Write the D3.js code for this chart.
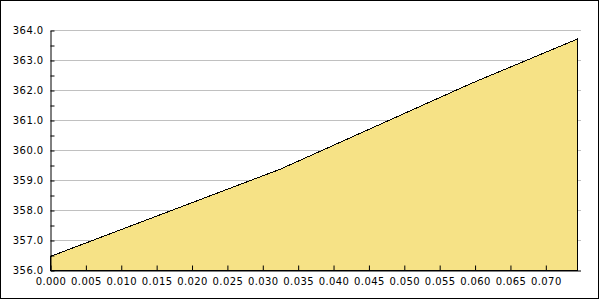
<!DOCTYPE html>
<html>
<head>
<meta charset="utf-8">
<script src="https://cdn.jsdelivr.net/npm/d3@7"></script>
<style>
  body { margin: 0; background: #fff; }
  svg { display: block; }
  text { font-family: "DejaVu Sans", Verdana, sans-serif; }
</style>
</head>
<body>
<div class="chart"></div>
<script>
// data
const xValues = [0, 0.0325, 0.0594, 0.0745];
const yValues = [356.47, 359.38, 362.23, 363.72];
const xTicks = [0, 0.005, 0.010, 0.015, 0.020, 0.025, 0.030, 0.035, 0.040, 0.045, 0.050, 0.055, 0.060, 0.065, 0.070];
const yTicks = [356, 357, 358, 359, 360, 361, 362, 363, 364];
const yMinorTicks = [356.5, 357.5, 358.5, 359.5, 360.5, 361.5, 362.5, 363.5];

const points = xValues.map((x, i) => ({x: x, y: yValues[i]}));

const width = 600;
const height = 300;

const svg = d3.select('.chart')
  .append('svg')
  .attr('width', width)
  .attr('height', height);

// outer frame
svg.append('rect')
  .attr('x', 0.5).attr('y', 0.5)
  .attr('width', 598).attr('height', 298)
  .attr('fill', '#fff')
  .attr('stroke', '#000');

const x = d3.scaleLinear().domain([0, 0.0749]).range([50.5, 580.5]);
const y = d3.scaleLinear().domain([356, 364]).range([270.5, 30.5]);

// gridlines
svg.append('g')
  .selectAll('line')
  .data(yTicks.filter(d => d !== 356))
  .enter()
  .append('line')
  .attr('x1', x(0)).attr('x2', 581)
  .attr('y1', d => y(d)).attr('y2', d => y(d))
  .attr('stroke', '#c0c0c0');

// area + outline
const area = d3.area()
  .x(d => x(d.x))
  .y0(y(356))
  .y1(d => y(d.y));

svg.append('path')
  .datum(points)
  .attr('d', area)
  .attr('fill', '#f6e286')
  .attr('stroke', '#000')
  .attr('stroke-width', 1)
  .attr('shape-rendering', 'crispEdges');

// y axis
svg.append('g')
  .attr('transform', 'translate(' + x(0) + ',0)')
  .call(d3.axisLeft(y).tickValues(yTicks).tickFormat(d3.format('.1f'))
    .tickSize(-4).tickSizeOuter(0).tickPadding(7));

svg.append('g')
  .attr('transform', 'translate(' + x(0) + ',0)')
  .call(d3.axisLeft(y).tickValues(yMinorTicks).tickFormat('')
    .tickSize(-4).tickSizeOuter(0))
  .select('.domain').remove();

// x axis
svg.append('g')
  .attr('transform', 'translate(0,' + y(356) + ')')
  .call(d3.axisBottom(x).tickValues(xTicks).tickFormat(d3.format('.3f'))
    .tickSize(-5).tickSizeOuter(0).tickPadding(7));

svg.selectAll('.tick text')
  .attr('font-size', 10)
  .attr('letter-spacing', '0.4px')
  .attr('font-family', '"DejaVu Sans", Verdana, sans-serif')
  .attr('fill', '#000');
svg.selectAll('.domain, .tick line').attr('stroke', '#000');
</script>
</body>
</html>
